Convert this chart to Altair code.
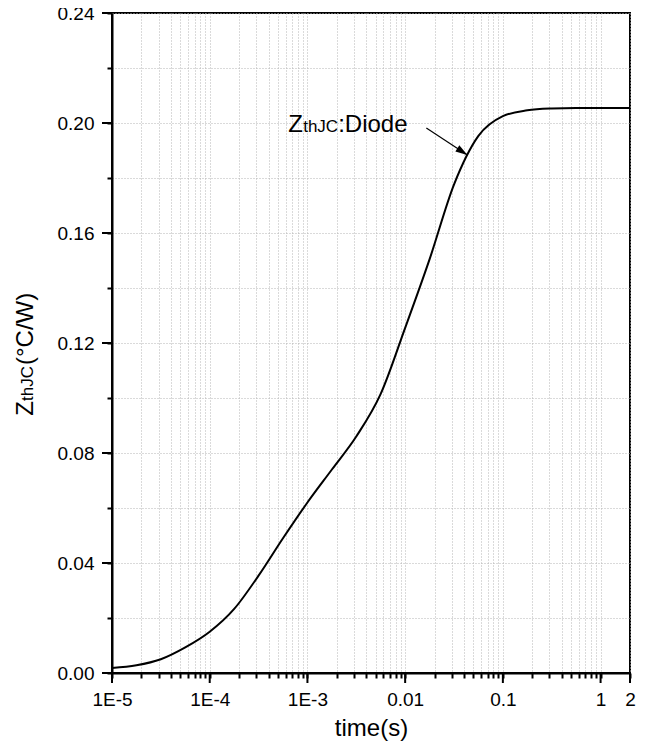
import math
import altair as alt
import pandas as pd

# ---- data ----
t_vals = [1e-5, 1.78e-5, 3.16e-5, 5.62e-5, 1e-4, 1.78e-4, 3.16e-4, 5.62e-4,
          1e-3, 1.78e-3, 3.16e-3, 5.62e-3, 0.01, 0.0178, 0.0316, 0.0562,
          0.1, 0.178, 0.316, 0.562, 1.0, 2.0]
z_vals = [0.0018, 0.0028, 0.0050, 0.0093, 0.0150, 0.0233, 0.0354, 0.0490,
          0.0620, 0.0740, 0.0860, 0.1015, 0.1255, 0.1505, 0.1776, 0.1953,
          0.2025, 0.2046, 0.2053, 0.2055, 0.2055, 0.2055]

x_major_vals = [1e-5, 1e-4, 1e-3, 0.01, 0.1, 1, 2]
x_major_labels = ["1E-5", "1E-4", "1E-3", "0.01", "0.1", "1", "2"]
decades = [1e-5, 1e-4, 1e-3, 0.01, 0.1, 1]
multipliers = [2, 3, 4, 5, 6, 7, 8, 9]
y_major = [0.0, 0.04, 0.08, 0.12, 0.16, 0.20, 0.24]
y_minor = [0.02, 0.06, 0.10, 0.14, 0.18, 0.22]

annot_texts = ["Z", "thJC", ":Diode"]
annot_t = [6.35e-4, 6.35e-4, 6.35e-4]
annot_z = [0.1967, 0.1967, 0.1967]
arrow_t = [0.01648]
arrow_z = [0.1982]
arrow_t2 = [0.0434]
arrow_z2 = [0.1884]
head_t = [0.0385]
head_z = [0.18957]

ytitle_texts = ["Z", "thJC", "(\u00b0C/W)"]

FONT = "Liberation Sans"

# ---- layout constants ----
W, H = 518, 660
X_DOM = [1e-5, 2]
Y_DOM = [0, 0.24]
MAJOR_LEN, MINOR_LEN = 10, 5

# ---- tables ----
curve = pd.DataFrame({"t": t_vals, "z": z_vals})
x_minor = [m * d for d in decades for m in multipliers if m * d < 2]
x_all = sorted(x_minor + x_major_vals)
y_all = sorted(y_major + y_minor)

px_per_decade = W / (math.log10(X_DOM[1]) - math.log10(X_DOM[0]))
px_per_unit = H / (Y_DOM[1] - Y_DOM[0])


def x_ticks(vals, length):
    return pd.DataFrame({"t": vals, "z": [Y_DOM[0]] * len(vals),
                         "z2": [Y_DOM[0] - length / px_per_unit] * len(vals)})


def y_ticks(vals, length):
    return pd.DataFrame({"z": vals, "t": [X_DOM[0]] * len(vals),
                         "t2": [X_DOM[0] * 10 ** (-length / px_per_decade)] * len(vals)})


label_expr = "".join(
    f"abs(datum.value - {v!r}) < {v * 1e-6!r} ? '{lab}' : " for v, lab in zip(x_major_vals, x_major_labels)
) + "''"
y_major_test = "abs(datum.value*25 - round(datum.value*25)) < 1e-6"

xscale = alt.Scale(type="log", domain=X_DOM, nice=False)
yscale = alt.Scale(domain=Y_DOM, nice=False)

x_axis = alt.Axis(
    title="time(s)", values=x_all, labelExpr=label_expr,
    ticks=True, tickSize=MINOR_LEN, tickWidth=2, tickColor="black",
    grid=True, gridDash=[1, 2], gridColor="#b4b4b4", gridWidth=1,
    labelFontSize=19, titleFontSize=24, labelPadding=12, titlePadding=7,
    labelFlush=False, labelOverlap=False, titleFontWeight="normal",
    domainColor="black", domainWidth=2,
    labelColor="black", titleColor="black", labelFont=FONT, titleFont=FONT,
)
y_axis = alt.Axis(
    title=None, values=y_all,
    labelExpr=f"({y_major_test}) ? format(datum.value, '.2f') : ''",
    ticks=True, tickSize=MINOR_LEN, tickWidth=2, tickColor="black",
    grid=True, gridDash=[1, 2], gridColor="#b4b4b4", gridWidth=1,
    labelFontSize=19, labelPadding=13, labelFlush=False, labelOverlap=False,
    domainColor="black", domainWidth=2,
    labelColor="black", labelFont=FONT,
)

line = alt.Chart(curve).mark_line(color="black", strokeWidth=2, interpolate="monotone").encode(
    x=alt.X("t:Q", scale=xscale, axis=x_axis),
    y=alt.Y("z:Q", scale=yscale, axis=y_axis),
)


def xtick_layer(vals, length):
    return alt.Chart(x_ticks(vals, length)).mark_rule(color="black", strokeWidth=2, clip=False).encode(
        x=alt.X("t:Q", scale=xscale), x2="t:Q",
        y=alt.Y("z:Q", scale=yscale), y2="z2:Q")


def ytick_layer(vals, length):
    return alt.Chart(y_ticks(vals, length)).mark_rule(color="black", strokeWidth=2, clip=False).encode(
        x=alt.X("t:Q", scale=xscale), x2="t2:Q",
        y=alt.Y("z:Q", scale=yscale), y2="z:Q")


# longer major ticks on top of the axis' own (minor-length) ticks
ticks = [xtick_layer(x_major_vals, MAJOR_LEN), ytick_layer(y_major, MAJOR_LEN)]

annot = pd.DataFrame({"t": annot_t, "z": annot_z, "label": annot_texts})
txt_z = alt.Chart(annot.iloc[[0]]).mark_text(align="left", baseline="alphabetic", font=FONT,
                                             fontSize=24, color="black").encode(
    x=alt.X("t:Q", scale=xscale), y=alt.Y("z:Q", scale=yscale), text="label:N")
txt_sub = alt.Chart(annot.iloc[[1]]).mark_text(align="left", baseline="alphabetic", font=FONT,
                                               fontSize=17, color="black", dx=15).encode(
    x=alt.X("t:Q", scale=xscale), y=alt.Y("z:Q", scale=yscale), text="label:N")
txt_rest = alt.Chart(annot.iloc[[2]]).mark_text(align="left", baseline="alphabetic", font=FONT,
                                                fontSize=24, color="black", dx=50).encode(
    x=alt.X("t:Q", scale=xscale), y=alt.Y("z:Q", scale=yscale), text="label:N")

arrow = pd.DataFrame({"t": arrow_t, "z": arrow_z, "t2": arrow_t2, "z2": arrow_z2})
arrow_line = alt.Chart(arrow).mark_rule(color="black", strokeWidth=1.2).encode(
    x=alt.X("t:Q", scale=xscale), y=alt.Y("z:Q", scale=yscale), x2="t2:Q", y2="z2:Q")

head = pd.DataFrame({"t": head_t, "z": head_z})
arrow_head = alt.Chart(head).mark_point(
    shape="M1,0L-1,-0.6L-1,0.6Z", filled=True, color="black", size=144, angle=33.4, opacity=1
).encode(x=alt.X("t:Q", scale=xscale), y=alt.Y("z:Q", scale=yscale))

yt = pd.DataFrame({"label": ytitle_texts})
yt_z = alt.Chart(yt.iloc[[0]]).mark_text(align="left", baseline="alphabetic", angle=270, font=FONT,
                                         fontSize=24, color="black").encode(
    x=alt.value(-79), y=alt.value(402.7), text="label:N")
yt_sub = alt.Chart(yt.iloc[[1]]).mark_text(align="left", baseline="alphabetic", angle=270, font=FONT,
                                           fontSize=17, color="black").encode(
    x=alt.value(-79), y=alt.value(388), text="label:N")
yt_rest = alt.Chart(yt.iloc[[2]]).mark_text(align="left", baseline="alphabetic", angle=270, font=FONT,
                                            fontSize=24, color="black").encode(
    x=alt.value(-79), y=alt.value(352), text="label:N")

chart = alt.layer(
    line, *ticks,
    arrow_line, arrow_head, txt_z, txt_sub, txt_rest, yt_z, yt_sub, yt_rest
).properties(
    width=W, height=H,
    autosize=alt.AutoSizeParams(type="none"),
    padding={"left": 104, "top": 5, "right": 7, "bottom": 68},
    background="white",
).configure_view(
    stroke="black", strokeWidth=2
)

chart.save("out.html", embed_options={"renderer": "svg", "actions": False})
